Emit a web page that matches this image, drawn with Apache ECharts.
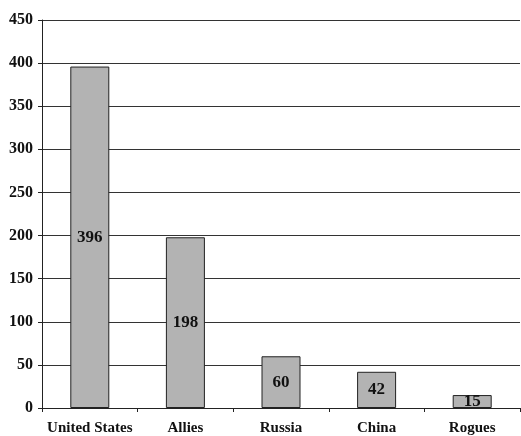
<!DOCTYPE html>
<html><head><meta charset="utf-8">
<script src="https://cdn.jsdelivr.net/npm/echarts@6/dist/echarts.min.js"></script>
<style>html,body{margin:0;padding:0;background:#fff}#c{width:521px;height:436px}</style>
</head><body><div id="c"></div>
<script>
const categories = ['United States', 'Allies', 'Russia', 'China', 'Rogues'];
const values = [396, 198, 60, 42, 15];
const yTicks = [0, 50, 100, 150, 200, 250, 300, 350, 400, 450];

const font = 'Liberation Serif';
const chart = echarts.init(document.getElementById('c'));
chart.setOption({
  animation: false,
  grid: { left: 42, right: 1, top: 20, bottom: 28, containLabel: false, outerBoundsMode: 'none' },
  xAxis: {
    type: 'category', data: categories,
    axisLine: { lineStyle: { color: '#222', width: 1 } },
    axisTick: { show: true, length: 4, lineStyle: { color: '#222' } },
    axisLabel: { color: '#111', fontFamily: font, fontWeight: 'bold', fontSize: 15, margin: 13, interval: 0 }
  },
  yAxis: {
    type: 'value', min: yTicks[0], max: yTicks[yTicks.length - 1], interval: 50,
    axisLine: { show: true, lineStyle: { color: '#222', width: 1 } },
    axisTick: { show: true, length: 4, lineStyle: { color: '#222' } },
    splitLine: { lineStyle: { color: '#333', width: 1 } },
    axisLabel: { color: '#111', fontFamily: font, fontWeight: 'bold', fontSize: 16, margin: 9 }
  },
  series: [{
    type: 'bar', data: values, barWidth: 39,
    itemStyle: { color: '#b3b3b3', borderColor: '#222', borderWidth: 1 },
    label: { show: true, position: 'inside', color: '#111', fontFamily: font, fontWeight: 'bold', fontSize: 17 }
  }]
});
</script></body></html>
